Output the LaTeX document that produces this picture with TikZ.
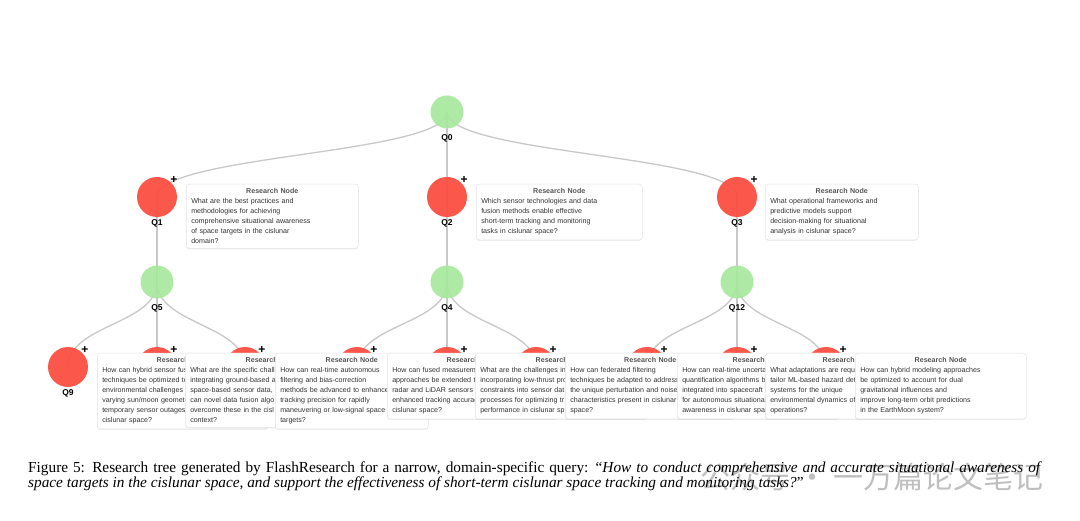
\documentclass[tikz,border=0pt]{standalone}
\usepackage{fontspec}
\setmainfont{Liberation Serif}
\setsansfont{Liberation Sans}
\newfontfamily\cjkfont{Noto Sans CJK SC}
\usetikzlibrary{shadows}
\definecolor{qred}{RGB}{252,78,66}
\definecolor{qgreen}{RGB}{166,232,156}
\definecolor{linkgray}{RGB}{200,200,200}
\definecolor{bodygray}{RGB}{51,51,51}
\definecolor{headgray}{RGB}{85,85,85}
\newcommand{\boxhead}{\makebox[\linewidth][c]{\bfseries\color{headgray}Research Node}\\}

\begin{document}
\begin{tikzpicture}[x=1pt,y=-1pt,
        hub/.style={circle,fill=qgreen,fill opacity=.9,minimum size=33pt,inner sep=0pt},
        leaf/.style={circle,fill=qred,fill opacity=.95,minimum size=40pt,inner sep=0pt},
        qlab/.style={font=\sffamily\bfseries\fontsize{8.5}{10}\selectfont,inner sep=0pt},
        plus/.style={font=\sffamily\bfseries\fontsize{12}{12}\selectfont,inner sep=0pt},
        link/.style={draw=linkgray,line width=1.3pt},
        infobox/.style={draw=black!10,line width=.5pt,fill=white,rounded corners=3pt,anchor=north west,
            inner xsep=5pt,inner ysep=4.5pt,align=left,text=bodygray,
            font=\sffamily\fontsize{7.1}{10}\selectfont,
            drop shadow={opacity=.12,shadow xshift=0pt,shadow yshift=-1pt}}]
        \fill[white] (0,0) rectangle (1080,521);
        \useasboundingbox (0,0) rectangle (1080,521);
        \foreach \n/\x/\y in {q0/447/112, q5/157/282, q4/447/282, q12/737/282}
            \path (\x,\y) coordinate (\n c);
        \foreach \n/\x/\y in {q1/157/197, q2/447/197, q3/737/197, q9/68/367, b2/157/367, b3/245/367,
                b4/357/367, b5/447/367, b6/536/367, b7/647/367, b8/737/367, b9/826/367}
            \path (\x,\y) coordinate (\n c);
        \foreach \a/\b in {q0/q1, q0/q2, q0/q3, q1/q5, q2/q4, q3/q12, q5/q9, q5/b2, q5/b3,
                q4/b4, q4/b5, q4/b6, q12/b7, q12/b8, q12/b9}
            \draw[link] (\a c) .. controls +(0,42.5) and +(0,-42.5) .. (\b c);
        \foreach \n in {q0, q5, q4, q12} \node[hub] (\n) at (\n c) {};
        \foreach \n in {q1, q2, q3, q9, b2, b3, b4, b5, b6, b7, b8, b9} \node[leaf] (\n) at (\n c) {};
        \foreach \n/\t in {q0/Q0, q1/Q1, q2/Q2, q3/Q3, q5/Q5, q4/Q4, q12/Q12, q9/Q9}
            \node[qlab] (\n-l) at ([yshift=-26pt]\n.center) {\t};
        \node[infobox,text width=162pt] (t1) at (186,184) {\boxhead What are the best practices and\\
            methodologies for achieving\\ comprehensive situational awareness\\ of space targets in the cislunar\\ domain?};
        \node[infobox,text width=156pt] (t2) at (476,184) {\boxhead Which sensor technologies and data\\
            fusion methods enable effective\\ short-term tracking and monitoring\\ tasks in cislunar space?};
        \node[infobox,text width=143pt] (t3) at (765,184) {\boxhead What operational frameworks and\\
            predictive models support\\ decision-making for situational\\ analysis in cislunar space?};
        \node[infobox,text width=161pt] (s1) at (97,353) {\boxhead How can hybrid sensor fus\\ techniques be optimized to\\
            environmental challenges (\\ varying sun/moon geometr\\ temporary sensor outages)\\ cislunar space?};
        \node[infobox,text width=163pt] (s2) at (185,353) {\boxhead What are the specific chall\\ integrating ground-based a\\
            space-based sensor data,\\ can novel data fusion algo\\ overcome these in the cisl\\ context?};
        \node[infobox,text width=143pt] (s3) at (275,353) {\boxhead How can real-time autonomous\\ filtering and bias-correction\\
            methods be advanced to enhance\\ tracking precision for rapidly\\ maneuvering or low-signal space\\ targets?};
        \node[infobox,text width=161pt] (s4) at (387,353) {\boxhead How can fused measureme\\ approaches be extended t\\
            radar and LiDAR sensors f\\ enhanced tracking accurac\\ cislunar space?};
        \node[infobox,text width=163pt] (s5) at (475,353) {\boxhead What are the challenges in\\ incorporating low-thrust pro\\
            constraints into sensor dat\\ processes for optimizing tr\\ performance in cislunar sp};
        \node[infobox,text width=160pt] (s6) at (565,353) {\boxhead How can federated filtering\\ techniques be adapted to address\\
            the unique perturbation and noise\\ characteristics present in cislunar\\ space?};
        \node[infobox,text width=153pt] (s7) at (677,353) {\boxhead How can real-time uncerta\\ quantification algorithms b\\
            integrated into spacecraft s\\ for autonomous situational\\ awareness in cislunar spac};
        \node[infobox,text width=157pt] (s8) at (765,353) {\boxhead What adaptations are requ\\ tailor ML-based hazard det\\
            systems for the unique\\ environmental dynamics of\\ operations?};
        \node[infobox,text width=161pt] (s9) at (855,353) {\boxhead How can hybrid modeling approaches\\ be optimized to account for dual\\
            gravitational influences and\\ improve long-term orbit predictions\\ in the EarthMoon system?};
        \foreach \n in {q1, q2, q3, q9, b2, b3, b4, b5, b6, b7, b8, b9}
            \node[plus] (\n-p) at ([shift={(17pt,17pt)}]\n.center) {+};
        \node[anchor=east,inner sep=0pt,text=black!25,font=\cjkfont\fontsize{30}{30}\selectfont] (mark) at (1044,477) {公众号 · 一万篇论文笔记};
        \node[anchor=base west,inner sep=0pt,text width=1012pt,align=justify,
            font=\rmfamily\fontsize{15.3}{12.5}\selectfont] (caption) at (28,472)
            {\lineskiplimit=-6pt Figure 5: Research tree generated by FlashResearch for a narrow, domain-specific query: ``\textit{How to conduct comprehensive and accurate situational awareness of\linebreak
            space targets in the cislunar space, and support the effectiveness of short-term cislunar space tracking and monitoring tasks?}''};
\end{tikzpicture}
\end{document}
